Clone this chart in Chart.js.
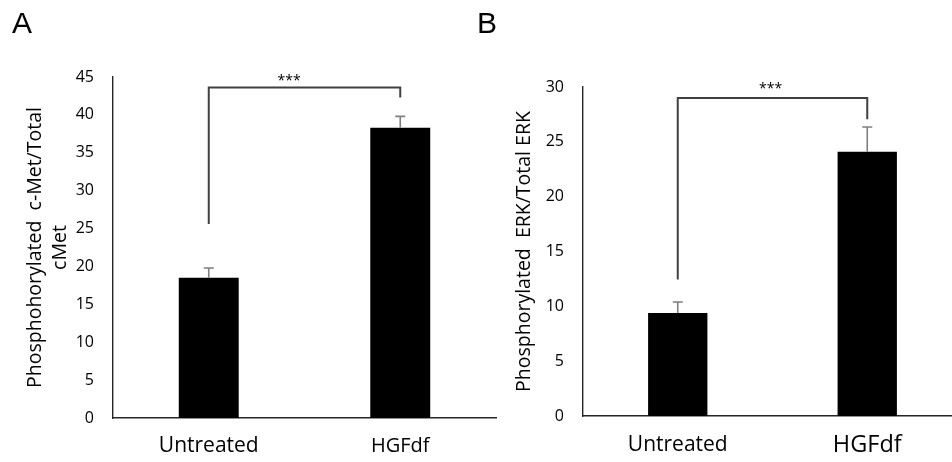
<!DOCTYPE html>
<html><head><meta charset="utf-8">
<script src="https://cdn.jsdelivr.net/npm/chart.js@4.4.1/dist/chart.umd.min.js"></script>
<style>
html,body{margin:0;padding:0;background:#fff;}
body{width:952px;height:462px;overflow:hidden;position:relative;}
.panel{position:absolute;top:0;height:462px;}
#wa{left:0;width:500px;}
#wb{left:476px;width:486px;}
.lbl{position:absolute;font-family:"Liberation Sans",Arial,sans-serif;font-size:30px;line-height:30px;color:#000;}
</style></head>
<body>
<div class="panel" id="wa"><canvas id="ca" width="500" height="462"></canvas></div>
<div class="panel" id="wb"><canvas id="cb" width="486" height="462"></canvas></div>
<div class="lbl" style="left:12px;top:8px">A</div>
<div class="lbl" style="left:477px;top:8px">B</div>
<script>
// ---- data ----
const categories = ['Untreated', 'HGFdf'];
const cmetValues = [18.5, 38.3];
const cmetErrors = [1.3, 1.5];
const erkValues = [9.4, 24.1];
const erkErrors = [1.0, 2.25];
const cmetAxisMax = 45;
const erkAxisMax = 30;
const tickStep = 5;
const cmetTitle = ['Phosphohorylated  c-Met/Total', 'cMet'];
const erkTitle = 'Phosphorylated  ERK/Total ERK';
// significance bracket: [left leg bottom, bracket top, right leg bottom]
const cmetBracket = [25.6, 43.6, 42.3];
const erkBracket = [12.45, 29.0, 27.05];
const sigLabel = '***';

const FONT = '"Open Sans", sans-serif';

const errorBarPlugin = {
  id: 'errBars',
  afterDatasetsDraw(chart, args, o) {
    const meta = chart.getDatasetMeta(0);
    const ys = chart.scales.y;
    const ctx = chart.ctx;
    const data = chart.data.datasets[0].data;
    ctx.save();
    ctx.strokeStyle = o.color;
    ctx.lineWidth = o.width;
    meta.data.forEach((bar, i) => {
      const yTop = ys.getPixelForValue(data[i] + o.errors[i]);
      ctx.beginPath();
      ctx.moveTo(bar.x, bar.y);
      ctx.lineTo(bar.x, yTop);
      ctx.moveTo(bar.x - o.cap / 2, yTop);
      ctx.lineTo(bar.x + o.cap / 2, yTop);
      ctx.stroke();
    });
    ctx.restore();
  }
};

const bracketPlugin = {
  id: 'sigBracket',
  afterDraw(chart, args, o) {
    const xs = chart.scales.x, ys = chart.scales.y, ctx = chart.ctx;
    const x0 = xs.getPixelForTick(0), x1 = xs.getPixelForTick(1);
    const [lo, top, hi] = o.levels;
    ctx.save();
    ctx.strokeStyle = o.color;
    ctx.lineWidth = o.width;
    ctx.beginPath();
    ctx.moveTo(x0, ys.getPixelForValue(lo));
    ctx.lineTo(x0, ys.getPixelForValue(top));
    ctx.lineTo(x1, ys.getPixelForValue(top));
    ctx.lineTo(x1, ys.getPixelForValue(hi));
    ctx.stroke();
    ctx.fillStyle = '#000';
    ctx.font = o.fontSize + 'px ' + FONT;
    ctx.textAlign = 'center';
    ctx.textBaseline = 'alphabetic';
    ctx.fillText(o.label, x0 + (x1 - x0) * o.labelPos, ys.getPixelForValue(top) + o.labelDy);
    ctx.restore();
  }
};

function makeChart(id, values, errors, yMax, title, bracket, cfg) {
  return new Chart(document.getElementById(id), {
    type: 'bar',
    data: {
      labels: categories,
      datasets: [{
        data: values,
        backgroundColor: '#000',
        borderWidth: 0,
        barPercentage: 0.313,
        categoryPercentage: 1.0
      }]
    },
    options: {
      responsive: false,
      animation: false,
      devicePixelRatio: 1,
      events: [],
      layout: { padding: { top: cfg.top, left: 0, right: cfg.right, bottom: 0 } },
      plugins: {
        legend: { display: false },
        tooltip: { enabled: false },
        errBars: { errors: errors, color: '#7f7f7f', width: 1.6, cap: 10 },
        sigBracket: { levels: bracket, label: sigLabel, color: '#404040', width: 2, fontSize: 14, labelPos: cfg.starPos, labelDy: cfg.starDy }
      },
      scales: {
        x: {
          offset: true,
          grid: { display: false, drawTicks: false },
          border: { display: true, color: '#262626', width: 1.4 },
          ticks: {
            color: '#000',
            padding: cfg.xPad,
            font: (c) => ({ family: FONT, size: c.index === 1 ? cfg.hgfSize : 21, lineHeight: '24px' })
          },
          afterFit: (s) => { s.height = cfg.xHeight; }
        },
        y: {
          min: 0, max: yMax,
          grid: { display: false, drawTicks: false },
          border: { display: true, color: '#262626', width: 1.4 },
          ticks: { stepSize: tickStep, color: '#000', padding: 19, font: { family: FONT, size: 16 } },
          title: {
            display: true, text: title, color: '#000',
            font: { family: FONT, size: 19.5, lineHeight: '25px' },
            padding: { top: cfg.titlePad, bottom: 0 }
          },
          afterFit: (s) => { s.width = cfg.yWidth; }
        }
      }
    },
    plugins: [errorBarPlugin, bracketPlugin]
  });
}

makeChart('ca', cmetValues, cmetErrors, cmetAxisMax, cmetTitle, cmetBracket,
  { top: 77, right: 4, xHeight: 44, xPad: 16, hgfSize: 20, yWidth: 113, titlePad: 23, starPos: 0.42, starDy: -3 });
makeChart('cb', erkValues, erkErrors, erkAxisMax, erkTitle, erkBracket,
  { top: 87, right: 0, xHeight: 46, xPad: 17, hgfSize: 23.5, yWidth: 107, titlePad: 36, starPos: 0.49, starDy: -5 });
</script>
</body></html>
